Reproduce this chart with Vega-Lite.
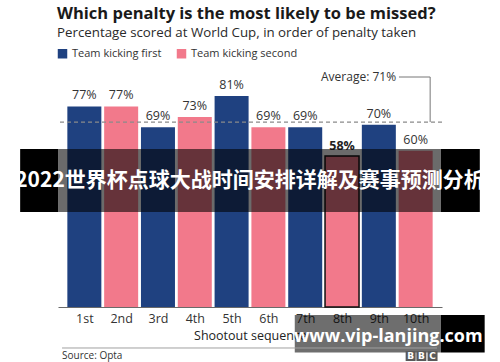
{
  "$schema": "https://vega.github.io/schema/vega-lite/v6.json",
  "width": 384,
  "height": 237,
  "autosize": {"type": "none"},
  "padding": {"left": 58, "top": 70, "right": 58, "bottom": 55},
  "background": "white",
  "config": {"view": {"stroke": null}, "font": "Open Sans"},
  "title": {
    "text": "Which penalty is the most likely to be missed?",
    "subtitle": "Percentage scored at World Cup, in order of penalty taken",
    "anchor": "start",
    "frame": "group",
    "offset": 9,
    "dx": -1,
    "font": "Open Sans",
    "fontSize": 16.5,
    "fontWeight": "bold",
    "color": "#1a1a1a",
    "subtitleFont": "Open Sans",
    "subtitleFontSize": 13.3,
    "subtitleColor": "#2a2a2a",
    "subtitlePadding": 3
  },
  "datasets": {
    "pen": [
      {"seq": 1, "label": "1st", "team": "Team kicking first", "pct": 77},
      {"seq": 2, "label": "2nd", "team": "Team kicking second", "pct": 77},
      {"seq": 3, "label": "3rd", "team": "Team kicking first", "pct": 69},
      {"seq": 4, "label": "4th", "team": "Team kicking second", "pct": 73},
      {"seq": 5, "label": "5th", "team": "Team kicking first", "pct": 81},
      {"seq": 6, "label": "6th", "team": "Team kicking second", "pct": 69},
      {"seq": 7, "label": "7th", "team": "Team kicking first", "pct": 69},
      {"seq": 8, "label": "8th", "team": "Team kicking second", "pct": 58},
      {"seq": 9, "label": "9th", "team": "Team kicking first", "pct": 70},
      {"seq": 10, "label": "10th", "team": "Team kicking second", "pct": 60}
    ]
  },
  "layer": [
    {
      "data": {"name": "pen"},
      "mark": {"type": "bar", "width": 34},
      "encoding": {
        "x": {
          "field": "seq", "type": "quantitative",
          "scale": {"domain": [0.42, 10.58], "nice": false, "zero": false},
          "axis": {
            "values": [1, 2, 3, 4, 5, 6, 7, 8, 9, 10],
            "labelExpr": "['1st','2nd','3rd','4th','5th','6th','7th','8th','9th','10th'][datum.value-1]",
            "title": "Shootout sequence",
            "grid": false, "ticks": false,
            "domainColor": "#6a6a6a", "domainWidth": 1.2,
            "labelFont": "Open Sans", "labelFontSize": 12.5, "labelColor": "#333333", "labelPadding": 5,
            "titleFont": "Open Sans", "titleFontSize": 12.5, "titleFontWeight": "normal", "titleColor": "#222222", "titlePadding": 5
          }
        },
        "y": {
          "field": "pct", "type": "quantitative",
          "scale": {"domain": [0, 91], "nice": false},
          "axis": null
        },
        "color": {
          "field": "team", "type": "nominal",
          "scale": {"domain": ["Team kicking first", "Team kicking second"], "range": ["#1f4180", "#f2798b"]},
          "legend": {
            "orient": "none", "legendX": -1, "legendY": -22, "direction": "horizontal",
            "title": null, "symbolType": "square", "symbolSize": 90, "symbolStrokeWidth": 0,
            "labelFont": "Open Sans", "labelFontSize": 11, "labelColor": "#333333",
            "labelOffset": 4, "columnPadding": 14
          }
        },
        "stroke": {"condition": {"test": "datum.seq == 8", "value": "#111111"}, "value": null},
        "strokeWidth": {"condition": {"test": "datum.seq == 8", "value": 1.5}, "value": 0}
      }
    },
    {
      "data": {"name": "pen"},
      "transform": [{"filter": "datum.seq != 8"}, {"calculate": "datum.pct + '%'", "as": "lab"}],
      "mark": {"type": "text", "baseline": "bottom", "dy": -4, "fontSize": 12.5, "font": "Open Sans", "color": "#333333"},
      "encoding": {
        "x": {"field": "seq", "type": "quantitative"},
        "y": {"field": "pct", "type": "quantitative"},
        "text": {"field": "lab"},
        "color": {"value": "#333333"}
      }
    },
    {
      "data": {"values": [{"avg": 71}]},
      "mark": {"type": "rule", "color": "#8a8a8a", "strokeDash": [4, 3], "strokeWidth": 1.2},
      "encoding": {"y": {"field": "avg", "type": "quantitative"}}
    },
    {
      "data": {"values": [{"ax": 10.394, "ay": 71, "ay2": 88.31}]},
      "mark": {"type": "rule", "color": "#777777", "strokeWidth": 1},
      "encoding": {
        "x": {"field": "ax", "type": "quantitative"},
        "y": {"field": "ay", "type": "quantitative"},
        "y2": {"field": "ay2"}
      }
    },
    {
      "data": {"values": [{"ax": 9.547, "ax2": 10.394, "ay": 88.31}]},
      "mark": {"type": "rule", "color": "#777777", "strokeWidth": 1},
      "encoding": {
        "x": {"field": "ax", "type": "quantitative"},
        "x2": {"field": "ax2"},
        "y": {"field": "ay", "type": "quantitative"}
      }
    },
    {
      "data": {"values": [{"ax": 9.468, "ay": 88.31, "t": "Average: 71%"}]},
      "mark": {"type": "text", "align": "right", "baseline": "middle", "fontSize": 12, "color": "#333333", "font": "Open Sans"},
      "encoding": {
        "x": {"field": "ax", "type": "quantitative"},
        "y": {"field": "ay", "type": "quantitative"},
        "text": {"field": "t"}
      }
    },
    {
      "data": {"values": [{"seq": 8, "pct": 58, "lab": "58%"}]},
      "mark": {"type": "text", "baseline": "bottom", "dy": -3, "fontSize": 12.5, "fontWeight": "bold", "color": "#222222", "font": "Open Sans"},
      "encoding": {
        "x": {"field": "seq", "type": "quantitative"},
        "y": {"field": "pct", "type": "quantitative"},
        "text": {"field": "lab"}
      }
    },
    {
      "data": {"values": [{"bx": -0.744, "bx2": 0.288, "by": 36.48, "by2": 60.67}, {"bx": 10.685, "bx2": 11.743, "by": 36.48, "by2": 60.67}]},
      "mark": {"type": "rect", "color": "#000000"},
      "encoding": {
        "x": {"field": "bx", "type": "quantitative"}, "x2": {"field": "bx2"},
        "y": {"field": "by", "type": "quantitative"}, "y2": {"field": "by2"}
      }
    },
    {
      "data": {"values": [{"bx": 0.288, "bx2": 10.685, "by": 36.48, "by2": 60.67}]},
      "mark": {"type": "rect", "color": "#000000", "opacity": 0.58},
      "encoding": {
        "x": {"field": "bx", "type": "quantitative"}, "x2": {"field": "bx2"},
        "y": {"field": "by", "type": "quantitative"}, "y2": {"field": "by2"}
      }
    },
    {
      "data": {"values": [{"tx": 5.5, "ty": 48.38, "t": "2022世界杯点球大战时间安排详解及赛事预测分析"}]},
      "mark": {"type": "text", "align": "center", "baseline": "middle", "font": "Noto Sans CJK SC", "fontSize": 21, "fontWeight": "bold", "color": "#ffffff"},
      "encoding": {
        "x": {"field": "tx", "type": "quantitative"},
        "y": {"field": "ty", "type": "quantitative"},
        "text": {"field": "t"}
      }
    },
    {
      "data": {"values": [{"bx": 10.685, "bx2": 11.875, "by": -17.47, "by2": -3.07}]},
      "mark": {"type": "rect", "color": "#000000"},
      "encoding": {
        "x": {"field": "bx", "type": "quantitative"}, "x2": {"field": "bx2"},
        "y": {"field": "by", "type": "quantitative"}, "y2": {"field": "by2"}
      }
    },
    {
      "data": {"values": [{"bx": 6.716, "bx2": 10.685, "by": -17.47, "by2": -3.07}]},
      "mark": {"type": "rect", "color": "#000000", "opacity": 0.57},
      "encoding": {
        "x": {"field": "bx", "type": "quantitative"}, "x2": {"field": "bx2"},
        "y": {"field": "by", "type": "quantitative"}, "y2": {"field": "by2"}
      }
    },
    {
      "data": {"values": [{"tx": 9.256, "ty": -11.33, "t": "www.vip-lanjing.com"}]},
      "mark": {"type": "text", "align": "center", "baseline": "middle", "font": "Open Sans", "fontSize": 18, "fontWeight": "bold", "color": "#ffffff"},
      "encoding": {
        "x": {"field": "tx", "type": "quantitative"},
        "y": {"field": "ty", "type": "quantitative"},
        "text": {"field": "t"}
      }
    },
    {
      "data": {"values": [{"lx": 0.394, "lx2": 10.579, "ly": -15.74}]},
      "mark": {"type": "rule", "color": "#a0a0a0", "strokeWidth": 1},
      "encoding": {
        "x": {"field": "lx", "type": "quantitative"}, "x2": {"field": "lx2"},
        "y": {"field": "ly", "type": "quantitative"}
      }
    },
    {
      "data": {"values": [{"sx": 0.394, "sy": -18.81, "t": "Source: Opta"}]},
      "mark": {"type": "text", "align": "left", "baseline": "middle", "font": "Open Sans", "fontSize": 10, "color": "#333333"},
      "encoding": {
        "x": {"field": "sx", "type": "quantitative"},
        "y": {"field": "sy", "type": "quantitative"},
        "text": {"field": "t"}
      }
    },
    {
      "data": {"values": [{"bx": 9.864, "by": -18.81, "l": "B"}, {"bx": 10.155, "by": -18.81, "l": "B"}, {"bx": 10.459, "by": -18.81, "l": "C"}]},
      "mark": {"type": "square", "size": 100, "filled": true, "color": "#5a5a5a", "opacity": 1},
      "encoding": {
        "x": {"field": "bx", "type": "quantitative"},
        "y": {"field": "by", "type": "quantitative"}
      }
    },
    {
      "data": {"values": [{"bx": 9.864, "by": -18.81, "l": "B"}, {"bx": 10.155, "by": -18.81, "l": "B"}, {"bx": 10.459, "by": -18.81, "l": "C"}]},
      "mark": {"type": "text", "align": "center", "baseline": "middle", "font": "DejaVu Sans", "fontSize": 9, "fontWeight": "bold", "color": "#ffffff"},
      "encoding": {
        "x": {"field": "bx", "type": "quantitative"},
        "y": {"field": "by", "type": "quantitative"},
        "text": {"field": "l"}
      }
    }
  ]
}
